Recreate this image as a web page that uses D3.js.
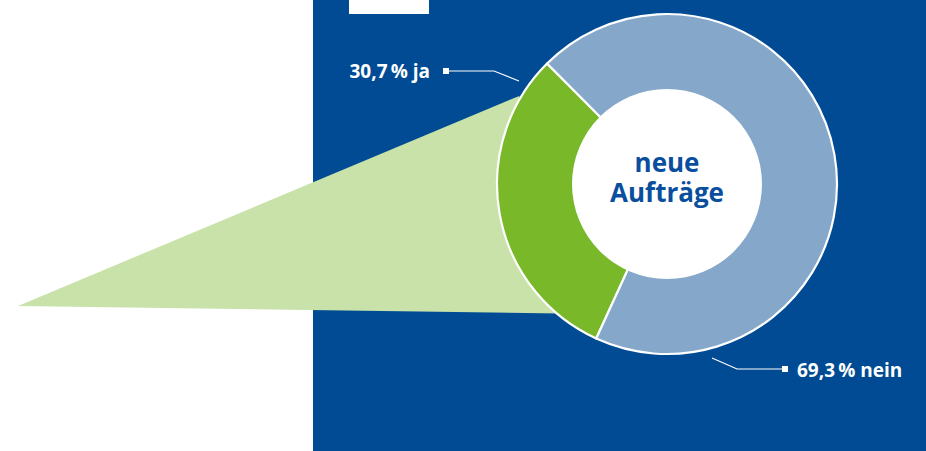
<!DOCTYPE html>
<html>
<head>
<meta charset="utf-8">
<script src="https://cdn.jsdelivr.net/npm/d3@7"></script>
<style>
  body { margin: 0; background: #fff; }
  svg { display: block; }
  text { font-family: "Open Sans", "Noto Sans", sans-serif; font-weight: 700; }
</style>
</head>
<body>
<svg id="chart" width="926" height="451"></svg>
<script>
// data
var categories = ["ja", "nein"]
var values = [30.7, 69.3]
var labels = ["30,7\u2009% ja", "69,3\u2009% nein"]
var centerLines = ["neue", "Aufträge"]

var colors = {ja: "#79b829", nein: "#84a7ca"}

const svg = d3.select('#chart')
const cx = 667, cy = 184
const outerR = 170, innerR = 95

// blue panel
svg.append('rect')
  .attr('x', 313).attr('y', 0)
  .attr('width', 926 - 313).attr('height', 451)
  .attr('fill', '#004b93')

svg.append('rect')
  .attr('x', 349).attr('y', 0)
  .attr('width', 80).attr('height', 14)
  .attr('fill', '#fff')

const deg = Math.PI / 180
const startA = -155.4 * deg

const pie = d3.pie().sort(null)
  .startAngle(startA).endAngle(startA + 2 * Math.PI)
const arcs = pie(values)

// light green fan behind the "ja" slice
function onCircle(a, r) {
  return [cx + r * Math.sin(a), cy - r * Math.cos(a)]
}
const jaArc = arcs[0]
const fanTop = onCircle(jaArc.endAngle - 14.3 * deg, outerR + 2)
const fanBot = onCircle(jaArc.startAngle + 15 * deg, outerR - 2)
svg.append('path')
  .attr('d', 'M18,306L' + fanTop.join(',') + 'L' + fanBot.join(',') + 'Z')
  .attr('fill', '#c8e2aa')

const g = svg.append('g').attr('transform', 'translate(' + cx + ',' + cy + ')')

const arc = d3.arc().innerRadius(0).outerRadius(outerR)

g.selectAll('path.slice')
  .data(arcs)
  .enter()
  .append('path')
  .attr('class', 'slice')
  .attr('d', arc)
  .attr('fill', (d, i) => colors[categories[i]])
  .attr('stroke', '#fff')
  .attr('stroke-width', 2.2)
  .attr('stroke-linejoin', 'round')

g.append('circle')
  .attr('r', innerR)
  .attr('fill', '#fff')

g.selectAll('text.center')
  .data(centerLines)
  .enter()
  .append('text')
  .attr('class', 'center')
  .attr('x', 0)
  .attr('y', (d, i) => -12 + i * 30)
  .attr('text-anchor', 'middle')
  .attr('fill', '#0a4e9e')
  .style('font-size', '26px')
  .text(d => d)

// labels with leader lines
const leaders = [
  {pts: [[519, 81], [494, 71], [447, 71]], sq: [446, 71], tx: 430, ty: 78, anchor: 'end'},
  {pts: [[712, 358], [737, 369], [784, 369]], sq: [785, 369], tx: 797, ty: 377, anchor: 'start'}
]

leaders.forEach(function(l, i) {
  svg.append('path')
    .attr('d', d3.line()(l.pts))
    .attr('fill', 'none')
    .attr('stroke', '#fff')
    .attr('stroke-width', 1.2)
  svg.append('rect')
    .attr('x', l.sq[0] - 3).attr('y', l.sq[1] - 3)
    .attr('width', 6).attr('height', 6)
    .attr('fill', '#fff')
  svg.append('text')
    .attr('x', l.tx).attr('y', l.ty)
    .attr('text-anchor', l.anchor)
    .attr('fill', '#fff')
    .style('font-size', '19px')
    .text(labels[i])
})
</script>
</body>
</html>
